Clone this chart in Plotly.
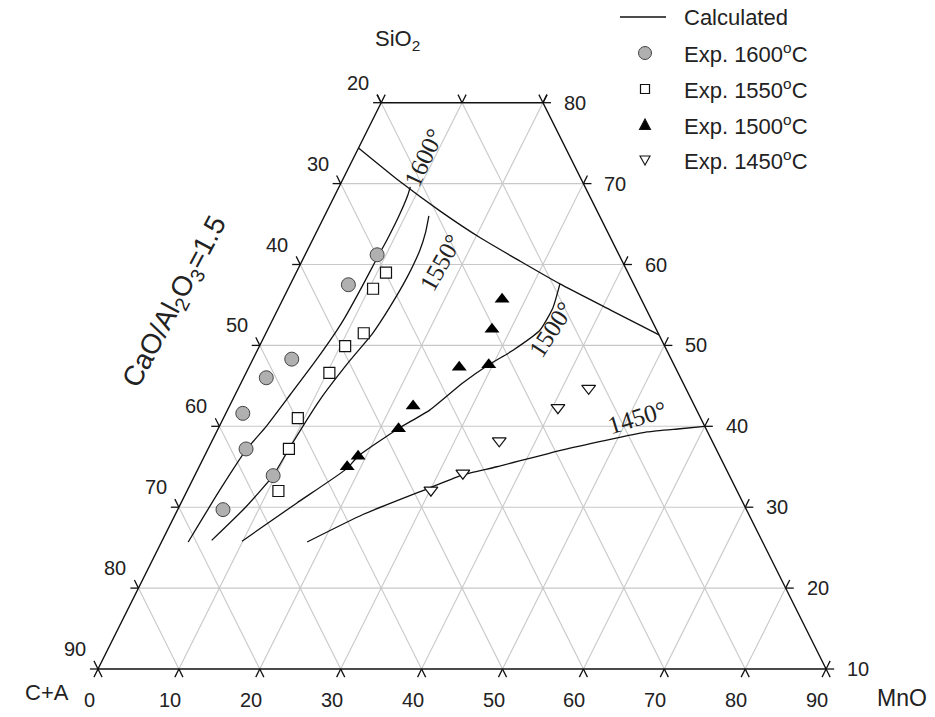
import plotly.graph_objects as go

# ---------------- data (wt%, MnO and SiO2; C+A = 100 - MnO - SiO2) ----------------
exp1600_mno = [8.9, 7.2, 4.8, 2.8, 2.1, 4.7, 9.7, 5.6]
exp1600_sio2 = [61.2, 57.5, 48.3, 46.0, 41.6, 37.2, 33.9, 29.7]
exp1550_mno = [11.1, 10.5, 12.1, 10.6, 10.3, 9.2, 10.0, 11.3]
exp1550_sio2 = [59.0, 57.0, 51.5, 49.9, 46.6, 41.0, 37.2, 32.0]
exp1500_mno = [27.1, 27.7, 26.0, 29.5, 22.7, 22.3, 19.0, 18.3]
exp1500_sio2 = [55.7, 52.0, 47.3, 47.6, 42.5, 39.7, 36.3, 35.0]
exp1450_mno = [43.3, 40.7, 35.5, 33.0, 30.1]
exp1450_sio2 = [44.7, 42.3, 38.2, 34.2, 32.1]

calc1600_mno = [8.8, 9.0, 9.2, 9.2, 9.1, 9.0, 8.8, 8.6, 7.8, 6.8, 5.8, 4.8, 4.0, 3.3]
calc1600_sio2 = [69.6, 68.6, 65.9, 63.0, 60.9, 57.2, 53.5, 51.9, 47.9, 43.9, 40.0, 37.2, 32.1, 25.7]
calc1550_mno = [12.9, 13.5, 13.9, 14.0, 13.7, 13.2, 12.1, 10.8, 10.0, 9.7, 8.2, 6.1]
calc1550_sio2 = [66.0, 64.0, 61.8, 58.5, 54.7, 51.5, 48.2, 43.3, 37.2, 33.9, 29.9, 25.9]
calc1500_mno = [33.3, 33.9, 33.7, 31.6, 29.5, 27.4, 25.0, 22.25, 19.0, 18.4, 14.3, 9.9]
calc1500_sio2 = [57.6, 54.7, 51.9, 49.4, 47.6, 45.35, 42.0, 39.7, 36.3, 34.8, 30.5, 25.8]
calc1450_mno = [60.0, 57.1, 53.2, 43.9, 36.8, 33.1, 29.85, 23.2, 18.0]
calc1450_sio2 = [40.0, 39.7, 39.3, 37.1, 35.0, 34.0, 32.4, 29.1, 25.7]
boundary_mno = [0.0, 7.2, 14.0, 20.6, 27.0, 33.3, 41.1, 48.7]
boundary_sio2 = [74.4, 70.25, 66.6, 63.3, 60.4, 57.6, 54.4, 51.3]

iso_labels = ["1600°", "1550°", "1500°", "1450°"]
iso_label_mno = [8.7, 17.3, 35.0, 51.05]
iso_label_sio2 = [73.2, 60.2, 52.0, 41.15]
iso_label_angle = [-65, -61, -57, -17]

sio2_min, sio2_max = 10, 80
bottom_ticks = [0, 10, 20, 30, 40, 50, 60, 70, 80, 90]       # MnO
side_ticks = [10, 20, 30, 40, 50, 60, 70, 80]                # SiO2 levels
top_ticks = [0, 10, 20]                                      # MnO on top edge

legend_labels = ["Calculated", "Exp. 1600<sup>o</sup>C", "Exp. 1550<sup>o</sup>C",
                 "Exp. 1500<sup>o</sup>C", "Exp. 1450<sup>o</sup>C"]

FONT = "Liberation Sans, Arial, sans-serif"
SERIF = "Liberation Serif, Times New Roman, serif"
W, H = 935, 717
PX = 8.09          # pixels per wt% unit
ORX, ORY = 98, 669  # pixel of the (MnO=0, SiO2=10) corner


def xy(m, s):
    """ternary (MnO, SiO2) -> cartesian used on the plot axes"""
    return m + (s - sio2_min) / 2.0, s - sio2_min


def path(ms, ss):
    xs, ys = [], []
    for m, s in zip(ms, ss):
        x, y = xy(m, s)
        xs.append(x)
        ys.append(y)
    return xs, ys


def segs(pairs):
    xs, ys = [], []
    for (m0, s0), (m1, s1) in pairs:
        x0, y0 = xy(m0, s0)
        x1, y1 = xy(m1, s1)
        xs += [x0, x1, None]
        ys += [y0, y1, None]
    return xs, ys


fig = go.Figure()

# ---------------- grid ----------------
grid = []
for s in range(20, 80, 10):
    grid.append(((0, s), (100 - s, s)))
for m in range(10, 90, 10):
    if m <= 20:
        grid.append(((m, 10), (m, 80)))
    else:
        grid.append(((m, 10), (m, 100 - m)))
for c in range(10, 90, 10):
    if c <= 20:
        grid.append(((90 - c, 10), (20 - c, 80)))
    else:
        grid.append(((90 - c, 10), (0, 100 - c)))
gx, gy = segs(grid)
fig.add_trace(go.Scatter(x=gx, y=gy, mode="lines", line=dict(color="#c8c8c8", width=1.1),
                         hoverinfo="skip"))

# ---------------- frame ----------------
frame = path([0, 20, 90, 0, 0], [80, 80, 10, 10, 80])
fig.add_trace(go.Scatter(x=frame[0], y=frame[1], mode="lines",
                         line=dict(color="#111", width=1.4), hoverinfo="skip"))

# ---------------- ticks ----------------
t = 1.0
ticks = []
for m in bottom_ticks:
    ticks.append(((m, 10), (m, 10 - t)))
    ticks.append(((m, 10), (m + t, 10 - t)))
for s in side_ticks:
    ticks.append(((0, s), (-t, s)))
    ticks.append(((0, s), (-t, s + t)))
    ticks.append(((100 - s, s), (100 - s + t, s)))
    ticks.append(((100 - s, s), (100 - s, s + t)))
for m in top_ticks:
    ticks.append(((m, 80), (m, 80 + t)))
    ticks.append(((m, 80), (m - t, 80 + t)))
tx, ty = segs(ticks)
fig.add_trace(go.Scatter(x=tx, y=ty, mode="lines", line=dict(color="#111", width=1.3),
                         hoverinfo="skip"))

# ---------------- calculated curves ----------------
for ms, ss in [(calc1600_mno, calc1600_sio2), (calc1550_mno, calc1550_sio2),
               (calc1500_mno, calc1500_sio2), (calc1450_mno, calc1450_sio2),
               (boundary_mno, boundary_sio2)]:
    cx, cy = path(ms, ss)
    fig.add_trace(go.Scatter(x=cx, y=cy, mode="lines",
                             line=dict(color="#111", width=1.3, shape="spline", smoothing=0.5),
                             hoverinfo="skip"))

# ---------------- experimental points ----------------
mk = [
    (exp1600_mno, exp1600_sio2, dict(symbol="circle", size=14, color="#b0b0b0",
                                     line=dict(color="#444", width=1))),
    (exp1550_mno, exp1550_sio2, dict(symbol="square", size=11, color="white",
                                     line=dict(color="#111", width=1.2))),
    (exp1500_mno, exp1500_sio2, dict(symbol="triangle-up", size=13, color="#000",
                                     line=dict(color="#000", width=0))),
    (exp1450_mno, exp1450_sio2, dict(symbol="triangle-down", size=12, color="white",
                                     line=dict(color="#111", width=1.2))),
]
for ms, ss, m in mk:
    px_, py_ = path(ms, ss)
    fig.add_trace(go.Scatter(x=px_, y=py_, mode="markers", marker=m))

ann = []
# ---------------- tick labels ----------------
for m in bottom_ticks:
    x, y = xy(m, 10)
    ann.append(dict(x=x, y=y, text=str(m), xshift=-9, yshift=-31, showarrow=False,
                    xanchor="center", yanchor="middle",
                    font=dict(size=20, family=FONT, color="#222")))
for s in side_ticks:
    x, y = xy(0, s)
    ann.append(dict(x=x, y=y, text=str(100 - s), xshift=-23, yshift=20, showarrow=False,
                    xanchor="center", yanchor="middle",
                    font=dict(size=20, family=FONT, color="#222")))
    x, y = xy(100 - s, s)
    ann.append(dict(x=x, y=y, text=str(s), xshift=32, yshift=0, showarrow=False,
                    xanchor="center", yanchor="middle",
                    font=dict(size=20, family=FONT, color="#222")))

# ---------------- isotherm labels ----------------
for lab, m, s, a in zip(iso_labels, iso_label_mno, iso_label_sio2, iso_label_angle):
    x, y = xy(m, s)
    ann.append(dict(x=x, y=y, text=lab, textangle=a, showarrow=False,
                    xanchor="center", yanchor="middle",
                    font=dict(size=25, family=SERIF, color="#222")))

# ---------------- axis titles ----------------
def paper(px, py):
    return px / W, 1 - py / H

for txt, (px, py), size, ang in [("SiO<sub>2</sub>", (397, 40), 22, 0),
                                 ("C+A", (47, 692), 22, 0),
                                 ("MnO", (902, 698), 23, 0),
                                 ("CaO/Al<sub>2</sub>O<sub>3</sub>=1.5", (176, 303), 28, -62)]:
    x, y = paper(px, py)
    ann.append(dict(x=x, y=y, xref="paper", yref="paper", text=txt, textangle=ang,
                    xanchor="center", yanchor="middle",
                    showarrow=False, font=dict(size=size, family=FONT, color="#222")))

# ---------------- legend (drawn) ----------------
rows = [17, 53, 89, 125, 160]
for lab, r in zip(legend_labels, rows):
    x, y = paper(682, r)
    ann.append(dict(x=x, y=y, xref="paper", yref="paper", text=lab,
                    xanchor="left", yanchor="middle",
                    showarrow=False, font=dict(size=22, family=FONT, color="#222")))

shapes = []
lx0, ly = paper(620, rows[0])
lx1, _ = paper(666, rows[0])
shapes.append(dict(type="line", xref="paper", yref="paper", x0=lx0, x1=lx1, y0=ly, y1=ly,
                   line=dict(color="#111", width=1.3)))
cx, cy = 645, rows[1]
a0 = paper(cx - 6.5, cy + 6.5); a1 = paper(cx + 6.5, cy - 6.5)
shapes.append(dict(type="circle", xref="paper", yref="paper", x0=a0[0], y0=a0[1], x1=a1[0], y1=a1[1],
                   fillcolor="#b0b0b0", line=dict(color="#444", width=1)))
cx, cy = 645, rows[2]
a0 = paper(cx - 4.5, cy + 4.5); a1 = paper(cx + 4.5, cy - 4.5)
shapes.append(dict(type="rect", xref="paper", yref="paper", x0=a0[0], y0=a0[1], x1=a1[0], y1=a1[1],
                   fillcolor="white", line=dict(color="#111", width=1.2)))


def tri(cx, cy, up, fill):
    if up:
        pts = [(cx, cy - 6), (cx - 5.5, cy + 4.5), (cx + 5.5, cy + 4.5)]
    else:
        pts = [(cx, cy + 5), (cx - 5, cy - 4), (cx + 5, cy - 4)]
    pp = [paper(a, b) for a, b in pts]
    d = "M{},{} L{},{} L{},{} Z".format(pp[0][0], pp[0][1], pp[1][0], pp[1][1], pp[2][0], pp[2][1])
    return dict(type="path", xref="paper", yref="paper", path=d, fillcolor=fill,
                line=dict(color="#111", width=1.1))


shapes.append(tri(645, rows[3], True, "#000"))
shapes.append(tri(645, rows[4], False, "white"))

fig.update_layout(
    width=W, height=H, margin=dict(l=0, r=0, t=0, b=0),
    paper_bgcolor="white", plot_bgcolor="white", showlegend=False,
    xaxis=dict(visible=False, range=[-ORX / PX, (W - ORX) / PX]),
    yaxis=dict(visible=False, range=[(ORY - H) / PX, ORY / PX]),
    annotations=ann, shapes=shapes,
)

fig.write_html("out.html")
